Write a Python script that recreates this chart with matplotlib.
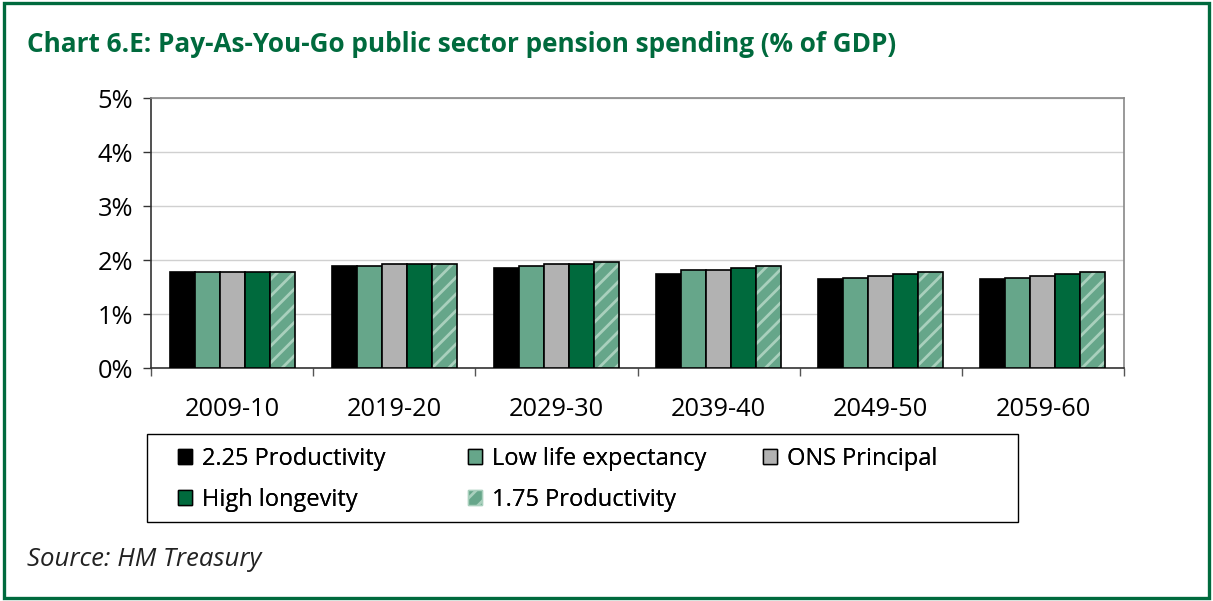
import matplotlib
matplotlib.use("Agg")
import matplotlib.pyplot as plt
from matplotlib.patches import Patch, Rectangle
import numpy as np

# Data: PAYG public sector pension spending, % of GDP
years = ["2009-10", "2019-20", "2029-30", "2039-40", "2049-50", "2059-60"]
prod_225 = [1.78, 1.89, 1.86, 1.75, 1.64, 1.64]
low_life = [1.78, 1.88, 1.89, 1.81, 1.67, 1.67]
ons_principal = [1.78, 1.93, 1.93, 1.81, 1.70, 1.70]
high_longevity = [1.78, 1.93, 1.93, 1.85, 1.74, 1.74]
prod_175 = [1.78, 1.93, 1.96, 1.89, 1.78, 1.78]
series_names = ["2.25 Productivity", "Low life expectancy", "ONS Principal",
                "High longevity", "1.75 Productivity"]
yticks = [0, 1, 2, 3, 4, 5]

GREEN = "#006a3d"
MID_GREEN = "#66a68a"
HATCH_GREEN = "#a9d0bd"
GREY = "#b2b2b2"

plt.rcParams["font.family"] = ["Open Sans", "DejaVu Sans"]
plt.rcParams["hatch.linewidth"] = 2.0

W, H = 1213, 601
fig = plt.figure(figsize=(W / 100, H / 100), dpi=100)
fig.patch.set_facecolor("white")

# green frame around the chart
fig.patches.append(Rectangle((0.0035, 0.005), 0.9935, 0.99, transform=fig.transFigure,
                             fill=False, edgecolor=GREEN, linewidth=2.4))

ax = fig.add_axes([151 / W, 1 - 368 / H, (1124 - 151) / W, (368 - 98) / H])

all_series = [prod_225, low_life, ons_principal, high_longevity, prod_175]
colors = ["#000000", MID_GREEN, GREY, GREEN, MID_GREEN]
x = np.arange(len(years))
w = 0.154
for j, (vals, c) in enumerate(zip(all_series, colors)):
    pos = x + (j - 2) * w
    if j == 4:
        ax.bar(pos, vals, w, color=c, edgecolor=HATCH_GREEN, hatch="//",
               linewidth=0, zorder=3)
        ax.bar(pos, vals, w, color="none", edgecolor="black", linewidth=1.2, zorder=4)
    else:
        ax.bar(pos, vals, w, color=c, edgecolor="black", linewidth=1.2, zorder=3)

ax.set_xlim(-0.5, len(years) - 0.5)
ax.set_ylim(0, 5)
ax.set_yticks(yticks)
ax.set_yticklabels([f"{v}%" for v in yticks])
ax.set_xticks(x)
ax.set_xticklabels(years)
ax.set_xticks(np.arange(len(years) + 1) - 0.5, minor=True)
ax.tick_params(axis="x", which="major", length=0, pad=21, labelsize=18.3)
ax.tick_params(axis="x", which="minor", length=6, width=1, color="#555555")
ax.tick_params(axis="y", length=6, width=1, pad=7, labelsize=18.3, color="#333333")
ax.yaxis.grid(True, color="#d0d0d0", linewidth=1)
ax.set_axisbelow(True)
ax.spines["left"].set_color("#333333")
ax.spines["bottom"].set_color("#333333")
ax.spines["top"].set_color("#888888")
ax.spines["right"].set_color("#888888")
for s in ax.spines.values():
    s.set_linewidth(1.2)

# legend: framed box with three columns laid out row by row
fig.patches.append(Rectangle((147 / W, 1 - 522 / H), (1018 - 147) / W, (522 - 434) / H,
                             transform=fig.transFigure, fill=False,
                             edgecolor="black", linewidth=1.0))
handles = [
    Patch(facecolor="#000000", edgecolor="black", linewidth=1),
    Patch(facecolor=MID_GREEN, edgecolor="black", linewidth=1),
    Patch(facecolor=GREY, edgecolor="black", linewidth=1),
    Patch(facecolor=GREEN, edgecolor="black", linewidth=1),
    Patch(facecolor=MID_GREEN, edgecolor=HATCH_GREEN, hatch="//", linewidth=1),
]
columns = [[0, 3], [1, 4], [2]]
col_x = [178, 468, 763]
for cx, idx in zip(col_x, columns):
    lg = fig.legend([handles[i] for i in idx], [series_names[i] for i in idx],
                    loc="upper left", bbox_to_anchor=(cx / W, 1 - 447 / H),
                    fontsize=17, frameon=False, handlelength=0.6, handleheight=0.6,
                    handletextpad=0.4, labelspacing=0.73, borderpad=0,
                    borderaxespad=0)
    fig.add_artist(lg)

fig.text(27 / W, 1 - 45 / H, "Chart 6.E: Pay-As-You-Go public sector pension spending (% of GDP)",
         color=GREEN, fontsize=18.8, fontweight="bold", va="center", ha="left")
fig.text(27 / W, 1 - 560 / H, "Source: HM Treasury", fontsize=18.5, style="italic",
         va="center", ha="left", color="#222222")

fig.savefig("out.png", dpi=100)
